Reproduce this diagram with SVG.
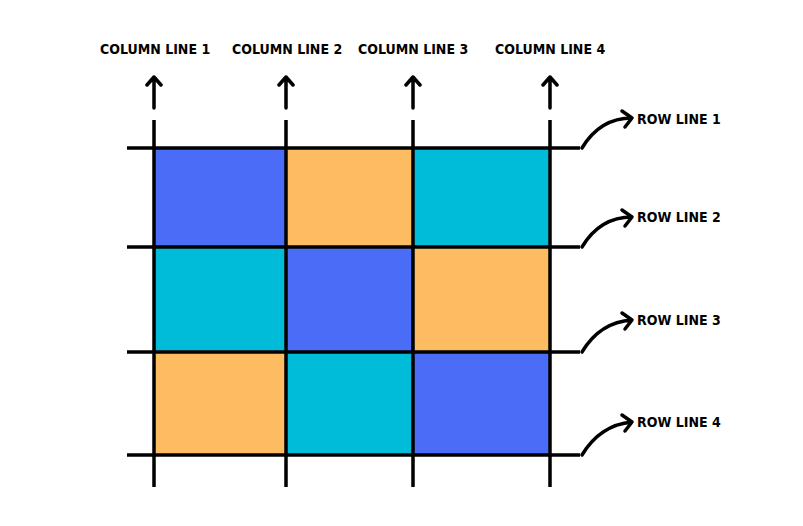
<svg xmlns="http://www.w3.org/2000/svg" width="803" height="526" viewBox="0 0 803 526">
<style>
.g{stroke:#000;stroke-width:3.5;fill:none}
.a{stroke:#000;stroke-width:3.5;fill:none;stroke-linecap:round;stroke-linejoin:round}
text{font-family:"DejaVu Sans Condensed","DejaVu Sans",sans-serif;font-weight:bold;font-size:14px;fill:#000}
</style>
<rect width="803" height="526" fill="#fff"/>
<g id="cells">
<rect x="154" y="148" width="132" height="99" fill="#4a6cf7"/>
<rect x="286" y="148" width="127" height="99" fill="#fdbb62"/>
<rect x="413" y="148" width="137" height="99" fill="#00bcd9"/>
<rect x="154" y="247" width="132" height="105" fill="#00bcd9"/>
<rect x="286" y="247" width="127" height="105" fill="#4a6cf7"/>
<rect x="413" y="247" width="137" height="105" fill="#fdbb62"/>
<rect x="154" y="352" width="132" height="103" fill="#fdbb62"/>
<rect x="286" y="352" width="127" height="103" fill="#00bcd9"/>
<rect x="413" y="352" width="137" height="103" fill="#4a6cf7"/>
</g>
<g id="connectors">
<path class="g" d="M127 148H580M127 247H580M127 352H580M127 455H580"/>
<path class="g" d="M154 120V487M286 120V487M413 120V487M550 120V487"/>
<path class="a" d="M154 108V77M147 85L154 77L161 85M286 108V77M279 85L286 77L293 85M413 108V77M406 85L413 77L420 85M550 108V77M543 85L550 77L557 85"/>
<path class="a" d="M582 148Q600 118 632 118M622 111L632 118L625 127"/>
<path class="a" d="M582 247Q600 217 632 217M622 210L632 217L625 226"/>
<path class="a" d="M582 352Q600 322 632 320M622 313L632 320L625 329"/>
<path class="a" d="M582 455Q600 425 632 422M622 415L632 422L625 431"/>
</g>
<g id="labels">
<text x="100" y="54">COLUMN LINE 1</text>
<text x="232" y="54">COLUMN LINE 2</text>
<text x="358" y="54">COLUMN LINE 3</text>
<text x="495" y="54">COLUMN LINE 4</text>
<text x="637" y="124" font-size="16">ROW LINE 1</text>
<text x="637" y="222" font-size="16">ROW LINE 2</text>
<text x="637" y="325" font-size="16">ROW LINE 3</text>
<text x="637" y="427" font-size="16">ROW LINE 4</text>
</g>
</svg>
